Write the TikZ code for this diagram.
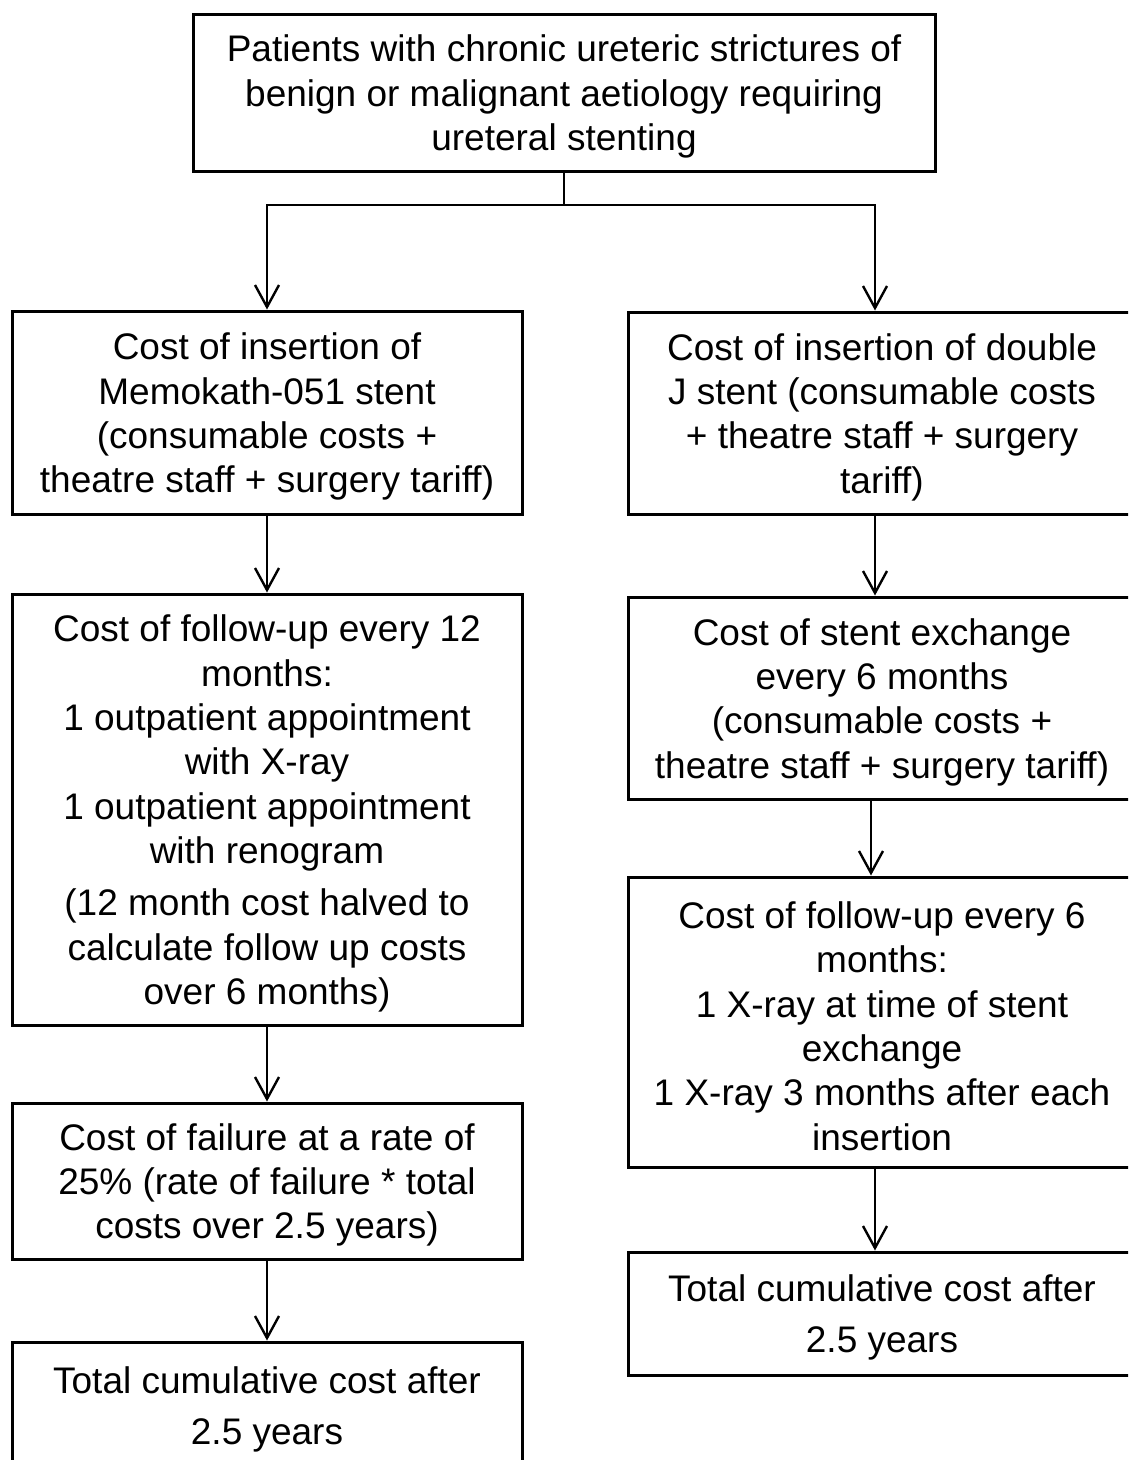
\documentclass[tikz,border=0pt]{standalone}
\usepackage{fontspec}
\setmainfont{Liberation Sans}
\usetikzlibrary{arrows.meta}
\newcommand\topstrut{\rule{0pt}{35pt}}
\begin{document}
\begin{tikzpicture}[x=1pt,y=-1pt,
  box/.style={draw=black,line width=3pt,rectangle,inner sep=0pt,align=center,
    font={\fontsize{37pt}{44.3pt}\selectfont}},
  totbox/.style={box,font={\fontsize{37pt}{50.5pt}\selectfont}},
  arr/.style={line width=2.4pt,-{Straight Barb[length=22pt,width=24pt,line width=2.4pt]}},
  link/.style={line width=2.4pt}]
\useasboundingbox (0,0) rectangle (1128,1460);
\clip (0,0) rectangle (1128,1460);
\fill[white] (0,0) rectangle (1128,1460);

\node[box,minimum width=742pt,minimum height=157pt] (top) at (564,92.5)
  {\topstrut Patients with chronic ureteric strictures of\\benign or malignant aetiology requiring\\ureteral stenting};

\node[box,minimum width=510pt,minimum height=203pt] (l1) at (267,412.5)
  {\topstrut Cost of insertion of\\Memokath-051 stent\\(consumable costs +\\theatre staff + surgery tariff)};
\node[box,minimum width=510pt,minimum height=431pt] (l2) at (267,809.5)
  {\topstrut Cost of follow-up every 12\\months:\\1 outpatient appointment\\with X-ray\\1 outpatient appointment\\with renogram\\[8pt](12 month cost halved to\\calculate follow up costs\\over 6 months)};
\node[box,minimum width=510pt,minimum height=156pt] (l3) at (267,1181)
  {\topstrut Cost of failure at a rate of\\25\% (rate of failure * total\\costs over 2.5 years)};
\node[totbox,minimum width=510pt,minimum height=127pt] (l4) at (267,1405.5)
  {\topstrut Total cumulative cost after\\2.5 years};

\node[box,minimum width=508pt,minimum height=202pt] (r1) at (882,413)
  {\topstrut Cost of insertion of double\\J stent (consumable costs\\+ theatre staff + surgery\\tariff)};
\node[box,minimum width=508pt,minimum height=202pt] (r2) at (882,698)
  {\topstrut Cost of stent exchange\\every 6 months\\(consumable costs +\\theatre staff + surgery tariff)};
\node[box,minimum width=508pt,minimum height=290pt] (r3) at (882,1022)
  {\topstrut Cost of follow-up every 6\\months:\\1 X-ray at time of stent\\exchange\\1 X-ray 3 months after each\\insertion};
\node[totbox,minimum width=508pt,minimum height=123pt] (r4) at (882,1313.5)
  {\topstrut Total cumulative cost after\\2.5 years};

\coordinate (j) at (564,205);
\coordinate (rx) at (875,0);
\coordinate (rxb) at (871,0);

\draw[link] (top.south) -- (j);
\draw[arr] (j) -| (l1.north);
\draw[arr] (j) -| (r1.north -| rx);

\draw[arr] (l1.south) -- (l2.north);
\draw[arr] (l2.south) -- (l3.north);
\draw[arr] (l3.south) -- (l4.north);

\draw[arr] (r1.south -| rx) -- (r2.north -| rx);
\draw[arr] (r2.south -| rxb) -- (r3.north -| rxb);
\draw[arr] (r3.south -| rx) -- (r4.north -| rx);
\end{tikzpicture}
\end{document}
